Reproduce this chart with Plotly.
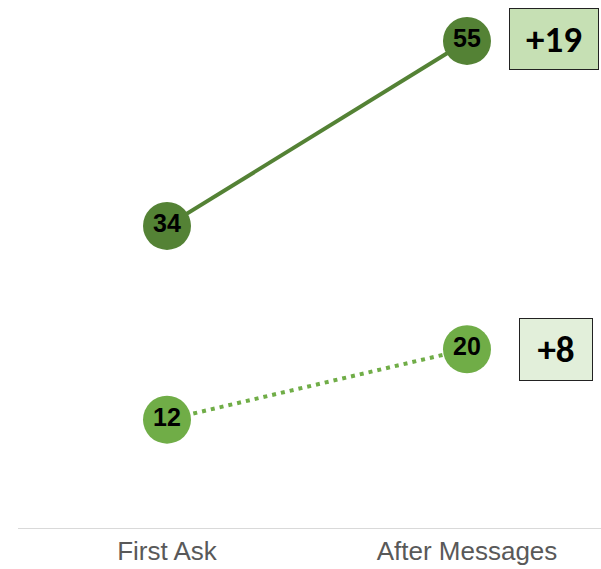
import plotly.graph_objects as go

stages = ["First Ask", "After Messages"]
group_a = [34, 55]
group_b = [12, 20]
change_labels = ["+19", "+8"]

dark_green = "#548235"
light_green = "#70ad47"

x_pos = [0, 1]
label_font = dict(family="Liberation Sans, Arial", size=25, color="black", weight="bold")

fig = go.Figure()

fig.add_trace(go.Scatter(
    x=x_pos, y=group_a, mode="lines+markers+text",
    line=dict(color=dark_green, width=4),
    marker=dict(size=48, color=dark_green),
    text=[str(v) for v in group_a], textposition="middle center",
    textfont=label_font, hoverinfo="skip", showlegend=False,
))
fig.add_trace(go.Scatter(
    x=x_pos, y=group_b, mode="lines+markers+text",
    line=dict(color=light_green, width=4, dash="4px,5px"),
    marker=dict(size=48, color=light_green),
    text=[str(v) for v in group_b], textposition="middle center",
    textfont=label_font, hoverinfo="skip", showlegend=False,
))

# change boxes to the right of the end points
boxes = [
    (group_a, change_labels[0], "#c6e0b4", 86, 58, 87, 2),
    (group_b, change_labels[1], "#e2efda", 70, 59, 89, 0),
]
for vals, label, bg, w, h, xs, ys in boxes:
    fig.add_annotation(
        x=1, y=vals[1], xref="x", yref="y", xshift=xs, yshift=ys,
        text=label, showarrow=False,
        font=dict(family="Carlito, Calibri, Liberation Sans, Arial", size=37, color="black", weight="bold"),
        bgcolor=bg, bordercolor="#222222", borderwidth=1, borderpad=1,
        width=w, height=h,
    )

fig.update_xaxes(
    range=[-0.4967, 1.4467], tickvals=x_pos, ticktext=stages,
    showgrid=False, zeroline=False, showline=True, linecolor="#d9d9d9", linewidth=1,
    ticks="", tickfont=dict(family="Liberation Sans, Arial", size=26, color="#595959"),
)
fig.update_yaxes(range=[-0.3, 59.65], visible=False, showgrid=False, zeroline=False)

fig.update_layout(
    width=601, height=569,
    margin=dict(l=18, r=0, t=0, b=41),
    paper_bgcolor="white", plot_bgcolor="white",
)

fig.write_html("out.html")
